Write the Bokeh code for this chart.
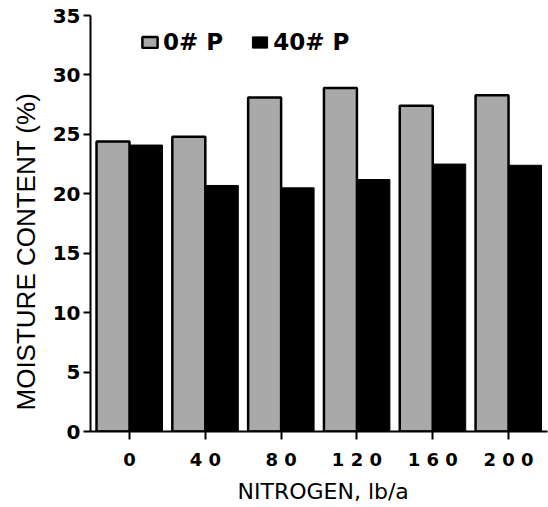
from bokeh.plotting import figure
from bokeh.models import Range1d, FixedTicker, Legend, LegendItem, ColumnDataSource, Title
from bokeh.embed import file_html
from bokeh.resources import INLINE

nitrogen = ["0", "40", "80", "120", "160", "200"]
tick_labels = ["0", "4 0", "8 0", "1 2 0", "1 6 0", "2 0 0"]
p0 = [24.4, 24.8, 28.1, 28.9, 27.4, 28.3]
p40 = [24.1, 20.7, 20.5, 21.2, 22.5, 22.4]
series_names = ["0# P", "40# P"]
y_title = "MOISTURE CONTENT (%)"
x_title = "NITROGEN, lb/a"

idx = list(range(len(nitrogen)))
bar_w = 0.435
off = bar_w / 2

src = ColumnDataSource(dict(
    x0=[i - off for i in idx], x1=[i + off for i in idx], p0=p0, p40=p40))

p = figure(width=548, height=507, output_backend="svg", toolbar_location=None,
           x_range=Range1d(-0.5145, 5.514), y_range=Range1d(0, 35),
           min_border_left=90, min_border_top=15, min_border_right=1, min_border_bottom=76)

r0 = p.vbar(x="x0", top="p0", width=bar_w, source=src, fill_color="#a9a9a9",
            line_color="black", line_width=2.5)
r1 = p.vbar(x="x1", top="p40", width=bar_w, source=src, fill_color="black",
            line_color="black", line_width=1)

p.xgrid.visible = False
p.ygrid.visible = False
p.outline_line_color = None

# y axis
p.yaxis.ticker = FixedTicker(ticks=[0, 5, 10, 15, 20, 25, 30, 35])
p.yaxis.axis_line_width = 2
p.yaxis.major_tick_line_width = 2
p.yaxis.major_tick_out = 7
p.yaxis.major_tick_in = 0
p.yaxis.minor_tick_line_color = None
p.yaxis.major_label_text_font = "DejaVu Sans"
p.yaxis.major_label_text_font_style = "bold"
p.yaxis.major_label_text_font_size = "20px"
p.yaxis.major_label_text_color = "black"
p.yaxis.major_label_standoff = 3

# x axis
p.xaxis.ticker = FixedTicker(ticks=idx)
p.xaxis.major_label_overrides = {i: t for i, t in zip(idx, tick_labels)}
p.xaxis.axis_line_width = 2
p.xaxis.major_tick_line_width = 2
p.xaxis.major_tick_out = 8
p.xaxis.major_tick_in = 0
p.xaxis.minor_tick_line_color = None
p.xaxis.major_label_text_font = "DejaVu Sans"
p.xaxis.major_label_text_font_style = "bold"
p.xaxis.major_label_text_font_size = "18px"
p.xaxis.major_label_text_color = "black"
p.xaxis.major_label_standoff = 9

# axis titles as side titles (allow offset along the axis)
p.add_layout(Title(text=y_title, align="left", offset=21, vertical_align="top",
                   standoff=14, text_font="Liberation Sans",
                   text_font_size="26px", text_font_style="normal",
                   text_color="black"), "left")
p.add_layout(Title(text=x_title, align="left", offset=147, vertical_align="bottom",
                   standoff=8, text_font="DejaVu Sans", text_font_size="22px",
                   text_font_style="normal", text_color="black"), "below")

legend = Legend(items=[LegendItem(label=series_names[0], renderers=[r0]),
                       LegendItem(label=series_names[1], renderers=[r1])],
                location=(50, 376), orientation="horizontal",
                glyph_width=19, glyph_height=14, label_standoff=4, spacing=27,
                padding=0, margin=0, border_line_alpha=0, background_fill_alpha=0,
                label_text_font="DejaVu Sans", label_text_font_style="bold",
                label_text_font_size="23px", label_text_color="black")
p.add_layout(legend)

open("out.html", "w").write(file_html(p, INLINE))
